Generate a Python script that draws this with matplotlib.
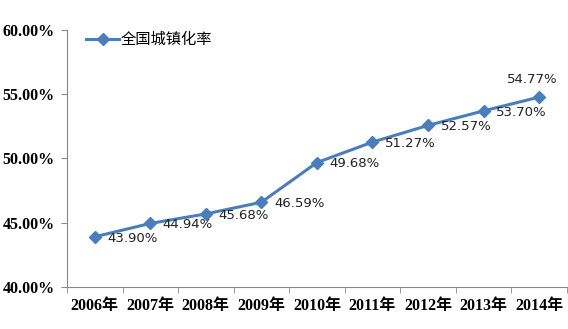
import matplotlib.pyplot as plt
from matplotlib.ticker import FixedLocator, FuncFormatter

years = ["2006年", "2007年", "2008年", "2009年", "2010年", "2011年", "2012年", "2013年", "2014年"]
rates = [43.90, 44.94, 45.68, 46.59, 49.68, 51.27, 52.57, 53.70, 54.77]
series_name = "全国城镇化率"

color = "#4A7EBB"
serif_cjk = ["Liberation Serif", "Noto Sans CJK SC"]
sans_cjk = ["DejaVu Sans", "Noto Sans CJK SC"]

fig = plt.figure(figsize=(5.68, 3.29), dpi=100)
ax = fig.add_axes([0.118, 0.128, 0.880, 0.781])

x = list(range(len(years)))
ax.plot(x, rates, color=color, lw=2.2, marker="D", markersize=6,
        label=series_name)

# data labels, last one sits above the point
for i, v in enumerate(rates):
    if i == len(rates) - 1:
        ax.annotate(f"{v:.2f}%", (i, v), xytext=(-5, 8), textcoords="offset points",
                    ha="center", va="bottom", fontsize=9.5, family=sans_cjk, color="#222222")
    else:
        ax.annotate(f"{v:.2f}%", (i, v), xytext=(9, -1), textcoords="offset points",
                    ha="left", va="center", fontsize=9.5, family=sans_cjk, color="#222222")

ax.set_xlim(-0.5, len(years) - 0.5)
ax.set_ylim(40, 60)
ax.set_yticks([40, 45, 50, 55, 60])
ax.yaxis.set_major_formatter(FuncFormatter(lambda v, p: f"{v:.2f}%"))
ax.set_xticks(x)
ax.set_xticklabels(years)
ax.xaxis.set_minor_locator(FixedLocator([i - 0.5 for i in range(len(years) + 1)]))
ax.tick_params(axis="x", which="major", length=0, pad=8)
ax.tick_params(axis="x", which="minor", length=4, color="#888888")
ax.tick_params(axis="y", length=4, color="#888888", pad=5)

for lab in ax.get_xticklabels() + ax.get_yticklabels():
    lab.set_family(serif_cjk)
    lab.set_fontweight("bold")
    lab.set_fontsize(11.5)

for s in ["top", "right"]:
    ax.spines[s].set_visible(False)
for s in ["left", "bottom"]:
    ax.spines[s].set_color("#888888")

ax.legend(loc="upper left", bbox_to_anchor=(0.01, 1.045), frameon=False,
          prop={"family": sans_cjk, "size": 11}, handlelength=2.2, handletextpad=0.1)

fig.savefig("out.png", dpi=100)
